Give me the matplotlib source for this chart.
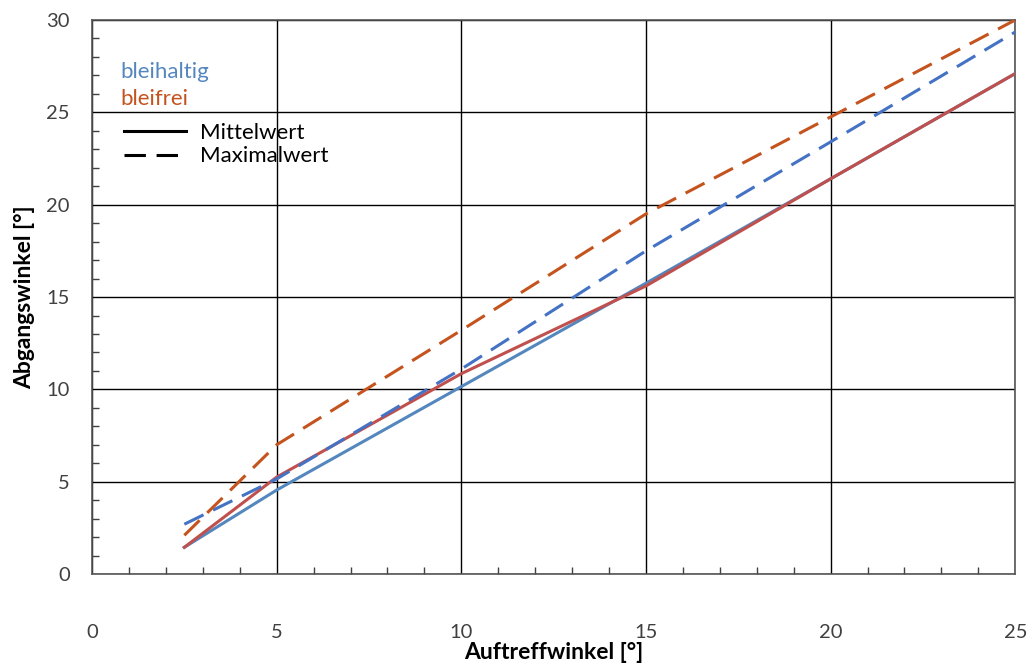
import matplotlib.pyplot as plt
from matplotlib.lines import Line2D
from matplotlib.ticker import MultipleLocator

plt.rcParams['font.family'] = ['Lato', 'DejaVu Sans']

# Auftreffwinkel [°]
x = [2.5, 5, 10, 15, 20, 25]

# Abgangswinkel [°]
bleihaltig_mittel = [1.45, 4.55, 10.15, 15.75, 21.4, 27.1]
bleifrei_mittel = [1.45, 5.25, 10.85, 15.6, 21.4, 27.1]
bleihaltig_max = [2.7, 5.15, 11.1, 17.5, 23.4, 29.35]
bleifrei_max = [2.1, 7.0, 13.2, 19.5, 24.75, 30.0]

blue_solid = '#5487BE'
blue_dash = '#4472C4'
red_solid = '#C0504D'
red_dash = '#C4531E'

fig = plt.figure(figsize=(10.36, 6.66), dpi=100)
ax = fig.add_axes([0.0888, 0.138, 0.8912, 0.832])

dash = (7, 3.5)
ax.plot(x, bleihaltig_mittel, color=blue_solid, lw=2.2, zorder=3)
ax.plot(x, bleifrei_mittel, color=red_solid, lw=2.2, zorder=3)
ax.plot(x, bleihaltig_max, color=blue_dash, lw=2.2, dashes=dash, zorder=3)
ax.plot(x, bleifrei_max, color=red_dash, lw=2.2, dashes=dash, zorder=3)

ax.set_xlim(0, 25)
ax.set_ylim(0, 30)
ax.xaxis.set_major_locator(MultipleLocator(5))
ax.yaxis.set_major_locator(MultipleLocator(5))
ax.xaxis.set_minor_locator(MultipleLocator(1))
ax.yaxis.set_minor_locator(MultipleLocator(1))
ax.grid(True, which='major', color='black', lw=1.0)
ax.tick_params(which='major', length=0, labelsize=14.5, labelcolor='#404040')
ax.tick_params(axis='x', which='major', pad=36)
ax.tick_params(axis='y', which='major', pad=16)
ax.tick_params(which='minor', direction='in', length=5, width=1, color='#404040')
for s in ax.spines.values():
    s.set_color('#555555')
    s.set_linewidth(1.2)

ax.set_xlabel('Auftreffwinkel [°]', fontsize=16.5, fontweight='bold', labelpad=1)
ax.set_ylabel('Abgangswinkel [°]', fontsize=16.5, fontweight='bold', labelpad=8)

ax.text(0.031, 0.906, 'bleihaltig', color=blue_solid, fontsize=16, transform=ax.transAxes, va='center')
ax.text(0.031, 0.858, 'bleifrei', color=red_dash, fontsize=16, transform=ax.transAxes, va='center')

handles = [Line2D([], [], color='black', lw=2.2),
           Line2D([], [], color='black', lw=2.2, dashes=dash)]
ax.legend(handles, ['Mittelwert', 'Maximalwert'], loc='upper left',
          bbox_to_anchor=(0.025, 0.83), frameon=False, fontsize=16,
          handlelength=2.8, handletextpad=0.6, labelspacing=0.15, borderaxespad=0)

fig.savefig('out.png', dpi=100)
